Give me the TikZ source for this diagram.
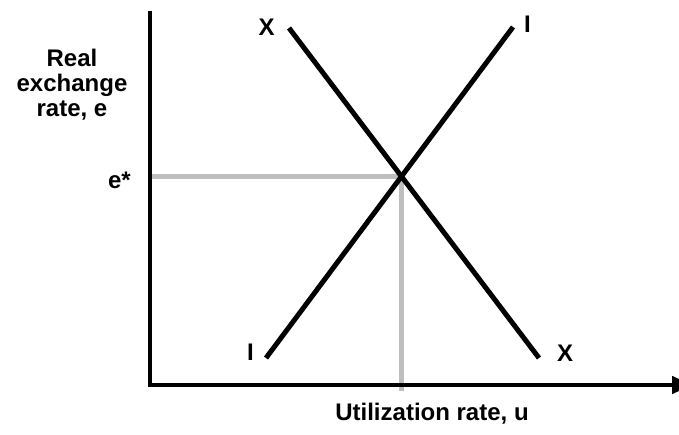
\documentclass[tikz,border=0pt]{standalone}
\usepackage{fontspec}
\setmainfont{Liberation Sans}
\usetikzlibrary{arrows.meta}
\definecolor{guide}{RGB}{190,190,190}
\tikzset{
  axisline/.style={line width=4.6pt, line join=miter},
  curveline/.style={line width=5pt},
  guideline/.style={guide, line width=4.4pt},
  lbl/.style={inner sep=0pt, font=\fontsize{24}{25}\selectfont\bfseries},
}
\begin{document}
\begin{tikzpicture}[x=1pt,y=-1pt]
\clip (0,0) rectangle (679,434);
\useasboundingbox (0,0) rectangle (679,434);
\coordinate (ytop) at (150,11);
\coordinate (O) at (150,385);
\coordinate (xend) at (692,385);
\coordinate (E) at (401.5,176.5);
\coordinate (Eleft) at (152,176.5);
\coordinate (Ebot) at (401.5,391);
\coordinate (Xtop) at (289,28);
\coordinate (Xbot) at (539,358);
\coordinate (Ibot) at (266,358);
\coordinate (Itop) at (513,27);
% guides
\draw[guideline] (Eleft) -- (E) -- (Ebot);
% axes
\draw[axisline, -{Triangle[length=20pt,width=17pt]}] (ytop) -- (O) -- (xend);
% curves
\draw[curveline] (Xtop) -- (Xbot);
\draw[curveline] (Ibot) -- (Itop);
% labels
\node[lbl] (lXt) at (266.5,27.5) {X};
\node[lbl] (lIt) at (527.5,24) {I};
\node[lbl] (lIb) at (250.5,352.5) {I};
\node[lbl] (lXb) at (565,353) {X};
\node[lbl, anchor=east] (lE) at (131,180) {e*};
\node[lbl, align=center] (ylab) at (72,85) {Real\\exchange\\rate, e};
\node[lbl, anchor=base] (xlab) at (432,420) {Utilization rate, u};
\end{tikzpicture}
\end{document}
